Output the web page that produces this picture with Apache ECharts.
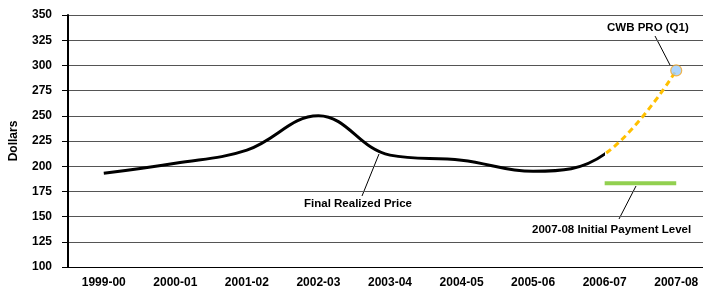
<!DOCTYPE html>
<html>
<head>
<meta charset="utf-8">
<script src="https://cdn.jsdelivr.net/npm/echarts@6/dist/echarts.min.js"></script>
<style>
html,body{margin:0;padding:0;background:#fff;overflow:hidden;width:703px;height:292px;}
#c{width:712px;height:292px;}
</style>
</head>
<body>
<div id="c"></div>
<script>
var categories = ['1999-00','2000-01','2001-02','2002-03','2003-04','2004-05','2005-06','2006-07','2007-08'];
var finalRealizedPrice = [193, 203, 216, 250, 211, 206, 195, 212];
var cwbPro = 295;
var initialPaymentLevel = 183;
var yTicks = [100, 125, 150, 175, 200, 225, 250, 275, 300, 325, 350];

var FONT = '"Liberation Sans", Arial, sans-serif';
var n = categories.length;
var lastFinal = finalRealizedPrice.length - 1;
var combined = finalRealizedPrice.concat([cwbPro]);
var markerData = categories.map(function (c, i) { return i === n - 1 ? cwbPro : null; });
var greenData = categories.map(function (c, i) { return i >= lastFinal ? initialPaymentLevel : null; });

var W = 712;
var chart = echarts.init(document.getElementById('c'), null, {renderer: 'canvas'});

function splitGradient(t, before, after) {
  return {
    type: 'linear', x: 0, y: 0, x2: W, y2: 0, global: true,
    colorStops: [
      {offset: 0, color: before}, {offset: t, color: before},
      {offset: t, color: after}, {offset: 1, color: after}
    ]
  };
}

var option = {
  animation: false,
  grid: {left: 66, top: 15, right: 0, bottom: 25},
  xAxis: {
    type: 'category',
    data: categories,
    boundaryGap: true,
    axisLine: {lineStyle: {color: '#000', width: 1}},
    axisTick: {length: 4, lineStyle: {color: '#000'}},
    axisLabel: {fontFamily: FONT, fontWeight: 'bold', fontSize: 12, color: '#000', margin: 10}
  },
  yAxis: {
    type: 'value',
    min: yTicks[0],
    max: yTicks[yTicks.length - 1],
    interval: 25,
    name: 'Dollars',
    nameLocation: 'middle',
    nameGap: 48,
    nameTextStyle: {fontFamily: FONT, fontWeight: 'bold', fontSize: 12, color: '#000'},
    axisLine: {show: true, lineStyle: {color: '#000', width: 2}},
    axisTick: {show: true, length: 6, lineStyle: {color: '#000'}},
    axisLabel: {fontFamily: FONT, fontWeight: 'bold', fontSize: 12, color: '#000', margin: 16},
    splitLine: {lineStyle: {color: '#555', width: 1}}
  },
  series: [
    {type: 'line', data: combined, smooth: 0.4, symbol: 'none', z: 3,
     lineStyle: {width: 3, color: '#000'}},
    {type: 'line', data: combined, smooth: 0.4, symbol: 'none', z: 2,
     lineStyle: {width: 3, color: 'rgba(0,0,0,0)', type: [6, 4]}},
    {type: 'line', data: greenData, symbol: 'none', z: 2,
     lineStyle: {width: 4, color: '#92D050'}},
    {type: 'scatter', data: markerData, symbol: 'circle', symbolSize: 11, z: 5,
     itemStyle: {color: '#99CCFF', borderColor: '#F5A623', borderWidth: 1.2}}
  ],
  graphic: [
    {type: 'text', left: 607, top: 22, style: {text: 'CWB PRO (Q1)', font: 'bold 11.5px ' + FONT, fill: '#000'}},
    {type: 'line', shape: {x1: 655, y1: 36, x2: 670, y2: 65}, style: {stroke: '#000', lineWidth: 1}},
    {type: 'text', left: 304, top: 198, style: {text: 'Final Realized Price', font: 'bold 11.5px ' + FONT, fill: '#000'}},
    {type: 'line', shape: {x1: 379, y1: 154, x2: 362, y2: 196}, style: {stroke: '#000', lineWidth: 1}},
    {type: 'text', left: 532, top: 224, style: {text: '2007-08 Initial Payment Level', font: 'bold 11.5px ' + FONT, fill: '#000'}},
    {type: 'line', shape: {x1: 636, y1: 186, x2: 619, y2: 219}, style: {stroke: '#000', lineWidth: 1}}
  ]
};
chart.setOption(option);

var splitX = chart.convertToPixel({xAxisIndex: 0}, lastFinal);
var t = Math.max(0, Math.min(1, splitX / W));
chart.setOption({
  series: [
    {lineStyle: {color: splitGradient(t, '#000', 'rgba(0,0,0,0)')}},
    {lineStyle: {color: splitGradient(t, 'rgba(0,0,0,0)', '#FFC000')}}
  ]
});
</script>
</body>
</html>
